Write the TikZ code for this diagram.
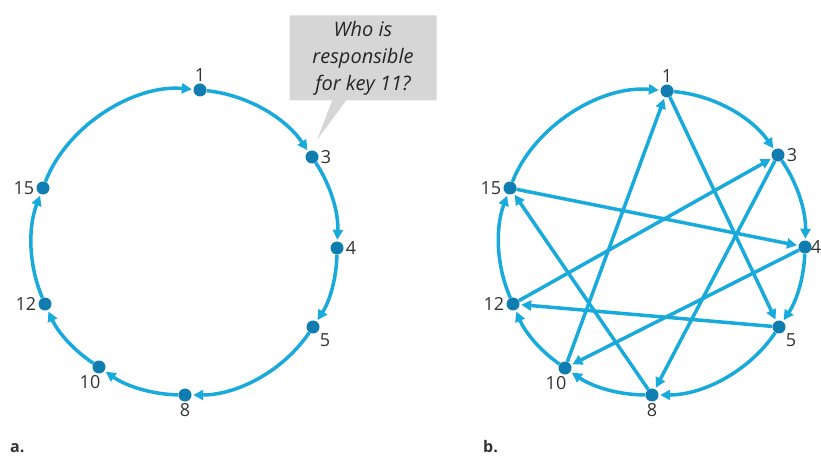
\documentclass[tikz,border=0pt]{standalone}
\usepackage{fontspec}
\setmainfont{Open Sans}
\usetikzlibrary{arrows.meta,shapes.callouts,calc}
\definecolor{ringblue}{HTML}{19AADC}
\definecolor{dotblue}{HTML}{0F7DAF}
\definecolor{numgray}{HTML}{333333}
\definecolor{boxgray}{HTML}{D6D6D6}

\begin{document}
\begin{tikzpicture}[x=1pt, y=1pt,
    peer/.style={circle, fill=dotblue, inner sep=0pt, minimum size=13pt, label distance=0pt},
    every label/.style={text=numgray, font=\fontsize{18}{20}\selectfont, inner sep=2pt},
    hop/.style={-{Triangle[length=10pt,width=10pt]}, line width=3.5pt, draw=ringblue, shorten >=1.5pt},
    ask/.style={rectangle callout, fill=boxgray, minimum width=147pt, minimum height=85pt, callout pointer width=14pt, align=center, text=black!85, font=\fontsize{20}{27}\selectfont\itshape},
    tag/.style={font=\fontsize{16}{18}\selectfont\bfseries, text=numgray, anchor=base west, inner sep=0pt}
  ]
    \useasboundingbox (0,0) rectangle (821,455);

    \node[peer, label=above:1] (a1) at (200,365) {};
    \node[peer, label=right:3] (a3) at (312,298) {};
    \node[peer, label=right:4] (a4) at (337,207) {};
    \node[peer, label=below right:5] (a5) at (313,128) {};
    \node[peer, label=below:8] (a8) at (185,60) {};
    \node[peer, label={[xshift=-9pt]below:10}] (a10) at (99,88) {};
    \node[peer, label=left:12] (a12) at (45,151) {};
    \node[peer, label=left:15] (a15) at (43,267) {};

    \node[peer, label=above:1] (b1) at (667,364) {};
    \node[peer, label=right:3] (b3) at (778,300) {};
    \node[peer, label={[xshift=-3pt]right:4}] (b4) at (805,208) {};
    \node[peer, label=below right:5] (b5) at (779,128) {};
    \node[peer, label=below:8] (b8) at (652,60) {};
    \node[peer, label={[xshift=-9pt]below:10}] (b10) at (565,87) {};
    \node[peer, label=left:12] (b12) at (513,151) {};
    \node[peer, label=left:15] (b15) at (510,267) {};

    \foreach \s/\t/\b in {1/3/25, 3/4/18, 4/5/16, 5/8/28, 8/10/17, 10/12/16, 12/15/22, 15/1/37} {
      \draw[hop] (a\s) to[bend left=\b, looseness=0.88] (a\t);
      \draw[hop] (b\s) to[bend left=\b, looseness=0.88] (b\t);
    }
    \foreach \s/\t in {15/4, 12/3, 5/12, 4/10, 3/8, 1/5, 10/1, 8/15}
      \draw[hop] (b\s) -- (b\t);

    \node[ask, callout absolute pointer={($(a3)+(5,17)$)}] (question) at (363,397) {Who is\\responsible\\for key 11?};

    \node[tag] (taga) at (10,3) {a.};
    \node[tag] (tagb) at (483,3) {b.};
\end{tikzpicture}
\end{document}
